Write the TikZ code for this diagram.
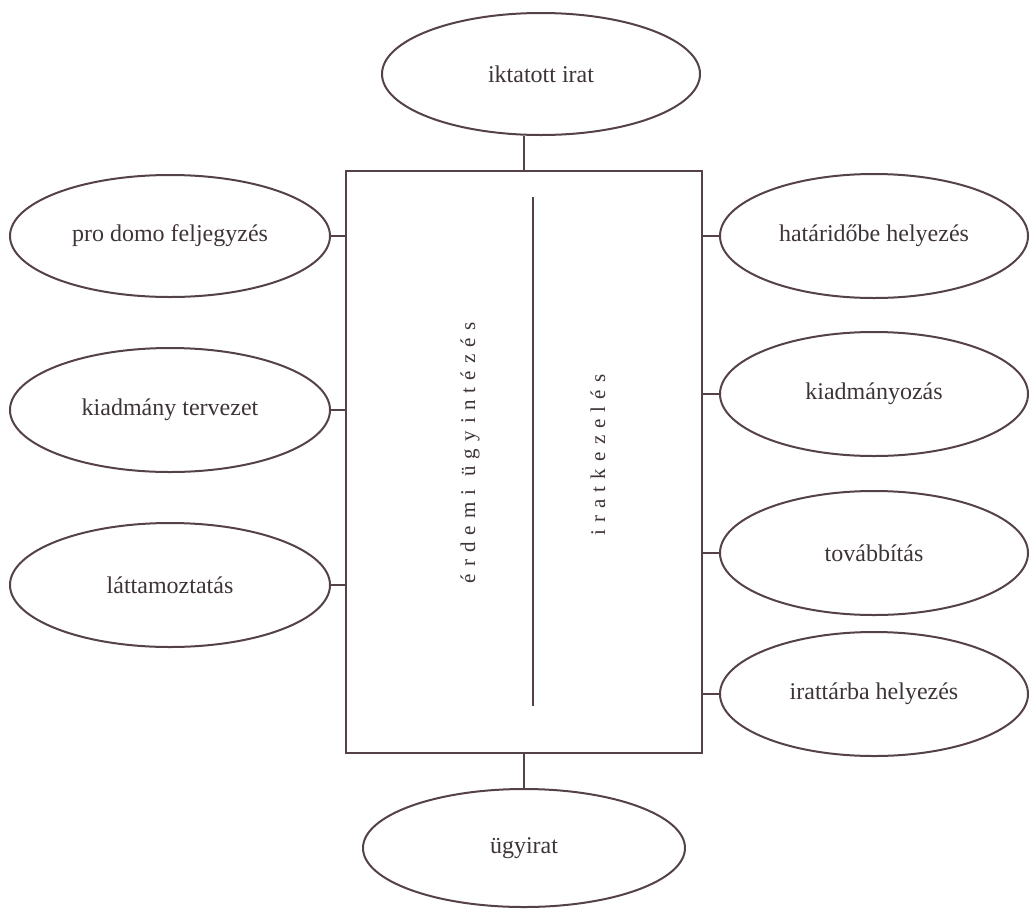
\documentclass[tikz,border=0pt]{standalone}
\usepackage{fontspec}
\setmainfont{Liberation Serif}
\newfontfamily\spacedfont[LetterSpace=34]{Liberation Serif}
\usepackage{tikz}
\usetikzlibrary{shapes.geometric}
\usetikzlibrary{positioning}
\definecolor{inkline}{RGB}{85,66,70}
\definecolor{inktext}{RGB}{62,52,55}

\begin{document}
\begin{tikzpicture}[x=1pt, y=-1pt, line width=2pt, color=inkline,
                    bubble/.style={ellipse, draw=inkline, inner sep=0pt, text=inktext,
                                   font=\fontsize{24}{28}\selectfont},
                    sidetext/.style={rotate=90, inner sep=0pt, text=inktext,
                                     font=\spacedfont\fontsize{21}{25}\selectfont}]
                    \useasboundingbox (0,0) rectangle (1030,908);
                    % middle box
                    \node[draw=inkline, minimum width=356, minimum height=582, inner sep=0pt] (box) at (524,462) {};
                    \coordinate (divtop) at (533,197);
                    \coordinate (divbot) at (533,706);
                    \draw (divtop) -- (divbot);
                    \node[sidetext] (erdemi) at (470,453) {érdemi ügyintézés};
                    \node[sidetext] (iratk) at (598,455) {iratkezelés};
                    % top and bottom
                    \node[bubble, minimum width=318, minimum height=122] (iktatott) at (541,74) {iktatott irat};
                    \node[bubble, minimum width=322, minimum height=118] (ugyirat) at (524,848) {ügyirat};
                    \draw (box.north) -- (box.north |- iktatott.south);
                    \draw (box.south) -- (box.south |- ugyirat.north);
                    % left side
                    \node[bubble, minimum width=320, minimum height=122] (prodomo) at (170,236) {pro domo feljegyzés};
                    \node[bubble, minimum width=320, minimum height=124] (tervezet) at (170,410) {kiadmány tervezet};
                    \node[bubble, minimum width=320, minimum height=124] (lattam) at (170,585) {láttamoztatás};
                    \foreach \n in {prodomo, tervezet, lattam}
                        \draw (\n.east) -- (\n.east -| box.west);
                    % right side
                    \node[bubble, minimum width=308, minimum height=124] (hatarido) at (874,236) {határidőbe helyezés};
                    \node[bubble, minimum width=308, minimum height=124] (kiadm) at (874,394) {kiadmányozás};
                    \node[bubble, minimum width=308, minimum height=124] (tovabb) at (874,553) {továbbítás};
                    \node[bubble, minimum width=308, minimum height=124] (irattar) at (874,694) {irattárba helyezés};
                    \foreach \n in {hatarido, kiadm, tovabb, irattar}
                        \draw (\n.west) -- (\n.west -| box.east);
                \end{tikzpicture}
\end{document}
